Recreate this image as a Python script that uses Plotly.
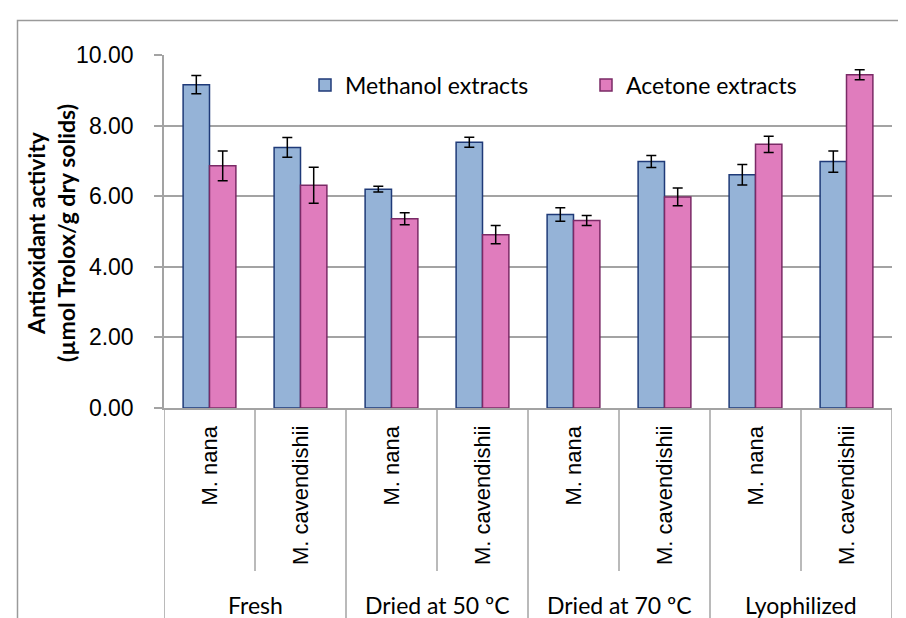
import plotly.graph_objects as go

groups = ["Fresh", "Dried at 50 ºC", "Dried at 70 ºC", "Lyophilized"]
species = ["M. nana", "M. cavendishii"]
methanol = [9.16, 7.38, 6.20, 7.53, 5.48, 6.98, 6.61, 6.98]
methanol_err = [0.26, 0.28, 0.08, 0.14, 0.19, 0.17, 0.29, 0.30]
acetone = [6.86, 6.31, 5.36, 4.91, 5.31, 5.98, 7.47, 9.44]
acetone_err = [0.42, 0.51, 0.17, 0.26, 0.14, 0.25, 0.23, 0.14]
y_ticks = [0, 2, 4, 6, 8, 10]
y_title_1 = "Antioxidant activity"
y_title_2 = "(µmol Trolox/g dry solids)"

keys = [g + " | " + s for g in groups for s in species]
sub_labels = [s for g in groups for s in species]

W, H = 906, 618
ML, MR, MT, MB = 156, 22, 47, 218
PW = W - ML - MR
PH = H - MT - MB


def px_x(p):
    return (p - ML) / PW


def px_y(p):
    return (H - MB - p) / PH


CAL = "Lato, Carlito, Calibri, sans-serif"
ARI = "Liberation Sans, Arial, sans-serif"
GRID = "#a3a3a3"

fig = go.Figure()
fig.add_trace(go.Bar(
    x=keys, y=methanol, name="Methanol extracts", legend="legend",
    marker=dict(color="#95b3d7", line=dict(color="#1f3a78", width=1.5)),
    error_y=dict(type="data", array=methanol_err, color="black", thickness=1.5, width=5),
))
fig.add_trace(go.Bar(
    x=keys, y=acetone, name="Acetone extracts", legend="legend2",
    marker=dict(color="#e07cbd", line=dict(color="#7a2a66", width=1.5)),
    error_y=dict(type="data", array=acetone_err, color="black", thickness=1.5, width=5),
))

shapes = []
# outer chart border
shapes.append(dict(type="rect", xref="paper", yref="paper",
                   x0=px_x(9.5), x1=px_x(W + 20), y0=px_y(H + 20), y1=px_y(12.5),
                   line=dict(color="#9a9a9a", width=1.5), layer="below"))
# inner separators (between species within a group)
for gi in range(len(groups)):
    xb = gi * len(species) + 0.5
    shapes.append(dict(type="line", xref="x", yref="paper", x0=xb, x1=xb,
                       y0=px_y(H - MB), y1=px_y(563), line=dict(color=GRID, width=1.5)))
# group separators
for gi in range(len(groups) + 1):
    xb = gi * len(species) - 0.5
    shapes.append(dict(type="line", xref="x", yref="paper", x0=xb, x1=xb,
                       y0=px_y(H - MB), y1=px_y(613), line=dict(color=GRID, width=1.5)))

annotations = []
for i, lab in enumerate(sub_labels):
    annotations.append(dict(x=i, xref="x", y=px_y(416), yref="paper", text=lab,
                            textangle=-90, showarrow=False, xanchor="center", yanchor="top",
                            font=dict(family=ARI, size=22, color="black")))
for gi, g in enumerate(groups):
    annotations.append(dict(x=gi * len(species) + 0.5, xref="x", y=px_y(597), yref="paper",
                            text=g, showarrow=False, xanchor="center", yanchor="middle",
                            font=dict(family=CAL, size=23, color="black")))
annotations.append(dict(x=px_x(43), xref="paper", y=px_y(225), yref="paper",
                        text="<b>" + y_title_1 + "</b><br><b>" + y_title_2 + "</b>",
                        textangle=-90, showarrow=False, xanchor="center", yanchor="middle",
                        font=dict(family=CAL, size=23, color="black")))

fig.update_layout(
    width=W, height=H,
    margin=dict(l=ML, r=MR, t=MT, b=MB, pad=0),
    paper_bgcolor="white", plot_bgcolor="white",
    barmode="group", bargap=0.42, bargroupgap=0,
    showlegend=True,
    legend=dict(x=px_x(297), y=px_y(77), xanchor="left", yanchor="middle",
                orientation="h", bgcolor="rgba(0,0,0,0)",
                font=dict(family=CAL, size=23, color="black")),
    legend2=dict(x=px_x(578), y=px_y(77), xanchor="left", yanchor="middle",
                 orientation="h", bgcolor="rgba(0,0,0,0)",
                 font=dict(family=CAL, size=23, color="black")),
    xaxis=dict(type="category", categoryorder="array", categoryarray=keys,
               showticklabels=False, ticks="", showgrid=False,
               showline=True, linecolor=GRID, linewidth=1.5, range=[-0.5, len(keys) - 0.5]),
    yaxis=dict(range=[0, 10], tickvals=y_ticks, tickformat=".2f",
               showgrid=True, gridcolor=GRID, gridwidth=1.5,
               showline=True, linecolor=GRID, linewidth=1.5,
               ticks="outside", ticklen=8, tickcolor=GRID, tickwidth=1.5,
               ticklabelstandoff=16, zeroline=False,
               tickfont=dict(family=ARI, size=23, color="black")),
    shapes=shapes,
    annotations=annotations,
)

fig.write_html("out.html")
